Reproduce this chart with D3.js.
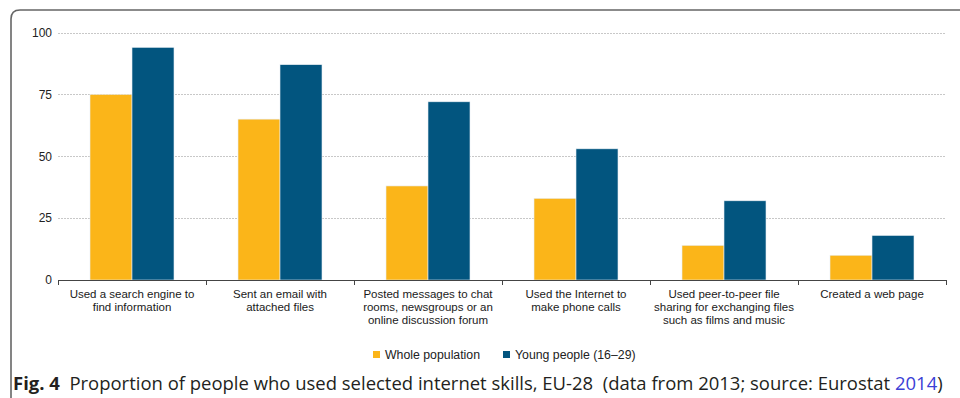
<!DOCTYPE html>
<html>
<head>
<meta charset="utf-8">
<script src="https://cdn.jsdelivr.net/npm/d3@7"></script>
<style>
  html, body { margin: 0; padding: 0; background: #fff; }
  svg { display: block; }
</style>
</head>
<body>
<svg id="chart" width="960" height="398"></svg>
<script>
// Internet skills, EU-28, 2013 (% of people)
const categories = [
  ["Used a search engine to", "find information"],
  ["Sent an email with", "attached files"],
  ["Posted messages to chat", "rooms, newsgroups or an", "online discussion forum"],
  ["Used the Internet to", "make phone calls"],
  ["Used peer-to-peer file", "sharing for exchanging files", "such as films and music"],
  ["Created a web page"]
];
const seriesNames = ["Whole population", "Young people (16\u201329)"];
const wholePopulation = [75, 65, 38, 33, 14, 10];
const youngPeople = [94, 87, 72, 53, 32, 18];
const yTicks = [0, 25, 50, 75, 100];
const colors = ["#FBB519", "#02557F"];

const svg = d3.select("#chart");
const plot = { left: 58, right: 946, top: 32.5, bottom: 280 };

// Frame: rounded top-left corner, open at right and bottom
svg.append("path")
  .attr("d", "M11,398 L11,19 Q11,10 20,10 L960,10")
  .attr("fill", "none")
  .attr("stroke", "#666")
  .attr("stroke-width", 1.6);

const keys = categories.map((c, i) => i);
const x0 = d3.scaleBand().domain(keys).range([plot.left, plot.right]).padding(0);
const inset = 32;
const x1 = d3.scaleBand().domain([0, 1]).range([inset, x0.bandwidth() - inset]).padding(0);
const y = d3.scaleLinear().domain([0, 100]).range([plot.bottom, plot.top]);

// Gridlines
svg.append("g")
  .selectAll("line")
  .data(yTicks.filter(t => t > 0))
  .join("line")
  .attr("x1", plot.left)
  .attr("x2", plot.right)
  .attr("y1", d => Math.round(y(d)) + 0.5)
  .attr("y2", d => Math.round(y(d)) + 0.5)
  .attr("stroke", "#c8c8c8")
  .attr("stroke-dasharray", "2,1");

// Y axis labels (no axis line)
const yAxis = d3.axisLeft(y).tickValues(yTicks).tickSize(0).tickPadding(6);
const gy = svg.append("g")
  .attr("transform", `translate(${plot.left},0)`)
  .call(yAxis);
gy.select(".domain").remove();
gy.selectAll("text")
  .attr("font-family", "Liberation Sans, Arial, sans-serif")
  .attr("font-size", 12)
  .attr("fill", "#222");

// Bars
const values = [wholePopulation, youngPeople];
const groups = svg.append("g")
  .selectAll("g")
  .data(keys)
  .join("g")
  .attr("transform", d => `translate(${x0(d)},0)`);

groups.selectAll("rect")
  .data(i => values.map((s, si) => ({ si, v: s[i] })))
  .join("rect")
  .attr("x", d => x1(d.si))
  .attr("width", x1.bandwidth())
  .attr("y", d => y(d.v))
  .attr("height", d => y(0) - y(d.v))
  .attr("fill", d => colors[d.si])
  .attr("stroke", "#e8eef3")
  .attr("stroke-width", 0.6);

// X axis line with boundary ticks
const axisG = svg.append("g");
axisG.append("line")
  .attr("x1", plot.left).attr("x2", plot.right + 1)
  .attr("y1", plot.bottom + 0.5).attr("y2", plot.bottom + 0.5)
  .attr("stroke", "#444").attr("stroke-width", 1.2);
const bounds = keys.map(k => x0(k)).concat([plot.right]);
axisG.selectAll("line.tick")
  .data(bounds)
  .join("line")
  .attr("class", "tick")
  .attr("x1", d => d + 0.5).attr("x2", d => d + 0.5)
  .attr("y1", plot.bottom).attr("y2", plot.bottom + 5)
  .attr("stroke", "#444").attr("stroke-width", 1);

// Category labels
const labels = svg.append("g")
  .selectAll("text")
  .data(keys)
  .join("text")
  .attr("text-anchor", "middle")
  .attr("font-family", "Liberation Sans, Arial, sans-serif")
  .attr("font-size", 11.5)
  .attr("fill", "#1a1a1a")
  .attr("transform", d => `translate(${x0(d) + x0.bandwidth() / 2},${plot.bottom + 18})`);
labels.selectAll("tspan")
  .data(d => categories[d])
  .join("tspan")
  .attr("x", 0)
  .attr("dy", (d, i) => i === 0 ? 0 : 13)
  .text(d => d);

// Legend
const legendX = [373, 503];
const legend = svg.append("g")
  .selectAll("g")
  .data(seriesNames)
  .join("g")
  .attr("transform", (d, i) => `translate(${legendX[i]},351)`);
legend.append("rect")
  .attr("width", 7).attr("height", 7)
  .attr("fill", (d, i) => colors[i]);
legend.append("text")
  .attr("x", 12).attr("y", 7.5)
  .attr("font-family", "Liberation Sans, Arial, sans-serif")
  .attr("font-size", 12.3)
  .attr("fill", "#222")
  .text(d => d);

// Figure caption, sized so that it spans the frame width
const caption = svg.append("text")
  .attr("x", 13)
  .attr("y", 390)
  .attr("font-family", "Open Sans, Noto Sans, sans-serif")
  .attr("font-size", 17)
  .attr("fill", "#231f20");
caption.append("tspan").attr("font-weight", "bold").text("Fig. 4");
caption.append("tspan").text("\u00a0 Proportion of people who used selected internet skills, EU-28 \u00a0(data from 2013; source: Eurostat ");
caption.append("tspan").attr("fill", "#3b3fd6").text("2014");
caption.append("tspan").text(")");
const captionWidth = caption.node().getComputedTextLength();
caption.attr("font-size", 17 * 930 / captionWidth);
</script>
</body>
</html>
